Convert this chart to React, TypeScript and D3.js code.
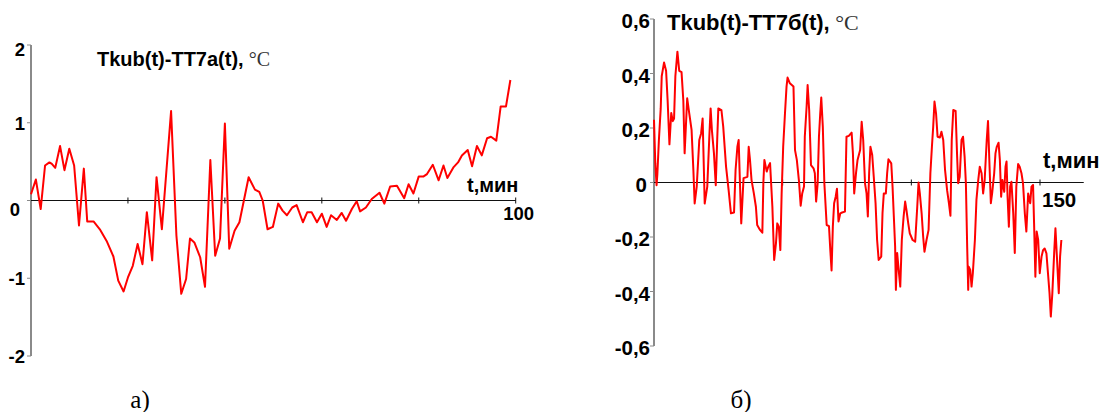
import React, { useRef, useEffect } from "react";
import * as d3 from "d3";

// panel а): Tkub(t)-TT7a(t), t in minutes
const seriesA: [number, number][] = [
  [0, 0.08], [1, 0.27], [2, -0.11], [2.9, 0.45], [3.8, 0.49], [4.3, 0.47], [5, 0.42], [6, 0.7], [6.9, 0.39], [7.9, 0.665],
  [8.9, 0.45], [9.9, -0.32], [10.9, 0.41], [11.6, -0.27], [12.9, -0.27], [14.2, -0.37], [15.6, -0.52], [17, -0.72], [18, -1.03], [19.1, -1.17],
  [20, -0.99], [21, -0.84], [22, -0.56], [23, -0.82], [23.9, -0.15], [25, -0.77], [25.9, 0.3], [27, -0.37], [28.9, 1.15], [30, -0.45],
  [31, -1.2], [32, -1.01], [32.8, -0.49], [33.7, -0.54], [34.9, -0.73], [35.9, -1.11], [37, 0.52], [38, -0.71], [39, -0.49], [40, 0.99],
  [40.9, -0.62], [42, -0.39], [43, -0.28], [44.9, 0.3], [46.2, 0.14], [47.1, 0.11], [47.8, 0.0], [48.8, -0.37], [49.9, -0.34], [51, -0.04],
  [51.9, -0.13], [52.8, -0.19], [53.9, -0.09], [54.8, -0.06], [56.1, -0.28], [57, -0.15], [57.9, -0.15], [59, -0.28], [60, -0.17], [61, -0.34],
  [61.9, -0.19], [63.1, -0.25], [64.1, -0.16], [65, -0.26], [66.2, -0.11], [67.2, -0.01], [67.9, -0.14], [69.1, -0.09], [70.3, 0.02], [71.9, 0.1],
  [72.9, -0.04], [74.1, 0.18], [75.5, 0.19], [77, 0.03], [77.9, 0.21], [78.9, 0.09], [80, 0.31], [81, 0.31], [81.7, 0.34], [82.9, 0.46],
  [84.1, 0.26], [85.1, 0.45], [85.9, 0.29], [87.2, 0.43], [88.1, 0.49], [88.9, 0.58], [90.1, 0.65], [91, 0.44], [92, 0.7], [93, 0.58],
  [94.1, 0.8], [94.9, 0.82], [96, 0.77], [96.9, 1.21], [98, 1.21], [98.9, 1.55],
];

// panel б): Tkub(t)-TT7б(t)
const seriesB: [number, number][] = [
  [0, 0.23], [0.5, 0.07], [1.0, -0.01], [1.3, 0.03], [1.9, 0.155], [2.6, 0.27], [3.0, 0.39], [3.9, 0.44], [4.7, 0.41], [5.3, 0.3],
  [6.0, 0.14], [6.7, 0.255], [7.3, 0.225], [7.8, 0.235], [8.3, 0.39], [9.1, 0.48], [9.8, 0.41], [10.7, 0.405], [11.4, 0.3], [11.9, 0.107],
  [12.9, 0.309], [13.7, 0.254], [14.6, 0.193], [15.3, 0.046], [15.8, -0.077], [16.6, -0.015], [17.6, 0.156], [18.3, 0.18], [18.9, 0.235], [19.7, -0.077],
  [20.7, -0.015], [21.5, 0.168], [22.0, 0.272], [22.5, 0.192], [23.3, 0.107], [24.0, -0.01], [24.6, 0.168], [25.0, 0.272], [26.2, 0.266], [26.9, 0.205],
  [28.0, 0.058], [29.0, -0.028], [29.9, -0.113], [31.1, -0.11], [31.7, 0.046], [32.4, 0.131], [32.9, 0.156], [33.4, -0.003], [33.9, -0.15], [34.8, 0.016],
  [35.7, 0.019], [36.3, 0.021], [36.8, 0.131], [37.3, 0.083], [37.9, 0.009], [38.8, -0.04], [39.6, -0.089], [40.1, -0.156], [41.2, -0.174], [42.1, -0.184],
  [42.5, 0], [42.9, 0.083], [43.8, 0.04], [44.4, 0.058], [45.1, 0.071], [46.0, -0.089], [46.7, -0.284], [47.4, -0.223], [47.9, -0.15], [48.5, -0.162],
  [49.1, -0.248], [49.6, -0.04], [50.2, 0.131], [50.9, 0.254], [51.5, 0.352], [51.9, 0.385], [52.8, 0.364], [54.2, 0.352], [54.8, 0.119], [55.5, 0.083],
  [56.3, 0.009], [57.0, -0.085], [57.6, -0.04], [58.3, -0.015], [58.6, 0.168], [59.3, 0.278], [59.7, 0.358], [60.3, 0.266], [61.0, 0.064], [62.0, 0.052],
  [62.5, 0.034], [63.0, -0.07], [63.6, -0.003], [64.1, 0.168], [64.6, 0.254], [65.0, 0.312], [65.6, 0.205], [66.2, -0.003], [67.1, -0.156], [68.0, -0.16],
  [68.5, -0.246], [69.0, -0.323], [69.5, -0.162], [70.0, -0.076], [70.6, -0.052], [71.1, -0.023], [71.7, -0.143], [72.4, -0.113], [73.1, -0.11], [74.2, -0.107],
  [74.8, 0.168], [75.7, 0.171], [76.8, 0.183], [77.3, 0.107], [77.8, -0.04], [78.5, 0.034], [79.1, 0.083], [80.1, 0.119], [80.7, 0.223], [81.3, 0.156],
  [82.0, -0.003], [82.6, -0.04], [83.1, -0.125], [83.6, 0.034], [84.1, 0.131], [84.8, 0.101], [85.4, 0.021], [86.1, -0.076], [86.7, -0.211], [87.3, -0.284],
  [88.3, -0.272], [88.8, -0.113], [89.3, -0.04], [90.1, -0.04], [90.6, 0.034], [91.1, 0.085], [92.2, 0.07], [92.7, -0.015], [93.2, -0.125], [93.7, -0.235],
  [94.0, -0.394], [94.5, -0.259], [95.2, -0.333], [95.7, -0.382], [96.3, -0.211], [97.0, -0.125], [97.6, -0.07], [98.1, -0.101], [98.8, -0.15], [99.4, -0.187],
  [100.5, -0.211], [101.5, -0.217], [102.3, -0.089], [102.8, 0], [103.3, -0.04], [104.0, -0.113], [104.6, -0.199], [105.1, -0.254], [105.9, -0.211], [106.7, -0.174],
  [107.4, 0.034], [108.0, 0.131], [108.5, 0.205], [109.0, 0.297], [109.6, 0.254], [110.2, 0.168], [111.1, 0.165], [111.7, 0.186], [112.4, 0.156], [113.1, 0.046],
  [113.9, -0.028], [114.6, -0.076], [115.2, -0.122], [115.7, 0.156], [116.3, 0.266], [117.2, 0.263], [117.8, 0.095], [118.2, -0.003], [118.8, 0.021], [119.5, 0.156],
  [120.1, 0.168], [120.7, 0.095], [121.2, -0.003], [121.7, -0.235], [122.1, -0.394], [122.3, -0.309], [122.9, -0.321], [123.4, -0.382], [123.9, -0.333], [124.7, -0.211],
  [125.3, -0.064], [126.0, 0.009], [126.6, 0.058], [127.3, 0.034], [127.9, -0.04], [128.5, 0.009], [129.3, 0.156], [129.8, 0.226], [130.4, 0.058], [130.9, -0.076],
  [131.4, -0.04], [132.2, 0.034], [132.7, 0.107], [133.2, 0.131], [133.9, 0.146], [134.4, 0.083], [134.9, -0.052], [135.4, 0.009], [136.1, -0.034], [136.6, 0.058],
  [137.0, 0.077], [137.4, -0.052], [137.9, -0.162], [138.4, -0.015], [138.9, 0.003], [139.6, -0.113], [140.2, -0.259], [140.8, -0.015], [141.5, 0.068], [142.1, 0.058],
  [142.8, 0.034], [143.4, -0.003], [144.1, -0.113], [144.7, -0.18], [145.4, -0.04], [146.2, -0.076], [146.7, -0.015], [147.3, -0.009], [147.7, -0.15], [148.2, -0.346],
  [148.7, -0.18], [149.3, -0.211], [149.9, -0.333], [150.6, -0.272], [151.2, -0.248], [151.8, -0.242], [152.5, -0.26], [153.1, -0.333], [153.7, -0.406], [154.2, -0.492],
  [154.8, -0.406], [155.5, -0.26], [156.0, -0.168], [156.5, -0.26], [157.3, -0.406], [157.8, -0.272], [158.3, -0.211],
];

const yTicksA = [2, 1, 0, -1, -2];
const xTicksA = [20, 40, 60, 80, 100];
const yTicksB = [0.6, 0.4, 0.2, 0, -0.2, -0.4, -0.6];
const xTicksB = [50, 100, 150];

const sans = "'Liberation Sans', Arial, sans-serif";
const serif = "'Liberation Serif', 'Times New Roman', serif";

function drawPanel(svg: any, o: any) {
  const { x, y, data, yTicks, xTicks, xEnd, fs, fmt, xLab, title } = o;
  const g = svg.append("g");
  const x0 = x(0), y0 = y(0);
  const yMax = d3.max(yTicks) as number, yMin = d3.min(yTicks) as number;

  // y axis (grey)
  g.append("line")
    .attr("x1", x0).attr("x2", x0)
    .attr("y1", y(yMax)).attr("y2", y(yMin))
    .attr("stroke", "#8a8a8a").attr("stroke-width", 2);
  g.selectAll(".yt").data(yTicks).enter().append("line")
    .attr("x1", x0 - 4).attr("x2", x0)
    .attr("y1", (d: number) => y(d)).attr("y2", (d: number) => y(d))
    .attr("stroke", "#8a8a8a").attr("stroke-width", 1);
  g.selectAll(".yl").data(yTicks).enter().append("text")
    .attr("x", (d: number) => (d === 0 ? x0 + o.zeroDx : x0 - o.labGap))
    .attr("y", (d: number) => y(d) + o.labDy + (d === 0 ? o.zeroDy : 0) + (d === yMax ? o.topDy : 0))
    .attr("text-anchor", "end")
    .style("font-family", sans).style("font-weight", 700).style("font-size", fs + "px")
    .text((d: number) => fmt(d));

  // x axis (black)
  g.append("line")
    .attr("x1", x0).attr("x2", x(xEnd))
    .attr("y1", y0).attr("y2", y0)
    .attr("stroke", "#111").attr("stroke-width", 1.2);
  g.selectAll(".xt").data(xTicks).enter().append("line")
    .attr("x1", (d: number) => x(d)).attr("x2", (d: number) => x(d))
    .attr("y1", y0 - 3).attr("y2", y0 + 3)
    .attr("stroke", "#111").attr("stroke-width", 1);
  const last = xTicks[xTicks.length - 1];
  g.append("text")
    .attr("x", x(last) + xLab.dx).attr("y", y0 + xLab.dy)
    .attr("text-anchor", xLab.anchor)
    .style("font-family", sans).style("font-weight", 700).style("font-size", fs + "px")
    .text(last);
  g.append("text")
    .attr("x", o.unit.x).attr("y", y0 + o.unit.dy)
    .style("font-family", sans).style("font-weight", 700).style("font-size", o.unit.fs + "px")
    .text("t,мин");

  // title
  const tt = g.append("text").attr("x", title.x).attr("y", title.y)
    .style("font-family", sans).style("font-weight", 700).style("font-size", title.fs + "px");
  tt.append("tspan").text(title.text + ",");
  tt.append("tspan").style("font-family", serif).style("font-weight", 400)
    .attr("fill", "#333").text(" °C");

  // data line
  const line = d3.line<[number, number]>().x((d) => x(d[0])).y((d) => y(d[1]));
  g.append("path")
    .attr("d", line(data))
    .attr("fill", "none")
    .attr("stroke", "#ff0000")
    .attr("stroke-width", 2)
    .attr("stroke-linejoin", "round");

  g.append("text")
    .attr("x", o.caption.x).attr("y", o.caption.y)
    .attr("text-anchor", "middle")
    .style("font-family", serif).style("font-size", "25px")
    .text(o.caption.text);
}

export default function App() {
  const svgRef = useRef<SVGSVGElement>(null);

  useEffect(() => {
    const svg = d3.select(svgRef.current);
    svg.selectAll("*").remove();

    const xA = d3.scaleLinear().domain([0, 100]).range([31, 515.7]);
    const yA = d3.scaleLinear().domain([-2, 2]).range([356, 45]);
    drawPanel(svg, {
      x: xA, y: yA, data: seriesA, yTicks: yTicksA, xTicks: xTicksA, xEnd: 100,
      fs: 18.5, fmt: (d: number) => String(d),
      labGap: 6, labDy: 7, zeroDx: -11, zeroDy: 8, topDy: 4,
      xLab: { dx: 3, dy: 19, anchor: "middle" },
      unit: { x: 467, dy: -9, fs: 20 },
      title: { x: 97, y: 66, fs: 20, text: "Tkub(t)-TT7a(t)" },
      caption: { x: 140, y: 408, text: "а)" },
    });

    const xB = d3.scaleLinear().domain([0, 150]).range([654, 1040]);
    const yB = d3.scaleLinear().domain([-0.6, 0.6]).range([346, 19]);
    drawPanel(svg, {
      x: xB, y: yB, data: seriesB, yTicks: yTicksB, xTicks: xTicksB, xEnd: 167,
      fs: 20.5, fmt: (d: number) => (d === 0 ? "0" : d3.format(".1f")(d).replace(".", ",").replace("−", "-")),
      labGap: 4, labDy: 9, zeroDx: -7, zeroDy: 0, topDy: 0,
      xLab: { dx: 2, dy: 24.5, anchor: "start" },
      unit: { x: 1043, dy: -14.5, fs: 22 },
      title: { x: 667, y: 30, fs: 22, text: "Tkub(t)-TT7б(t)" },
      caption: { x: 741, y: 408, text: "б)" },
    });
  }, []);

  return (
    <svg
      ref={svgRef}
      width={1105}
      height={412}
      style={{ position: "absolute", left: 0, top: 0, background: "#fff" }}
    />
  );
}
